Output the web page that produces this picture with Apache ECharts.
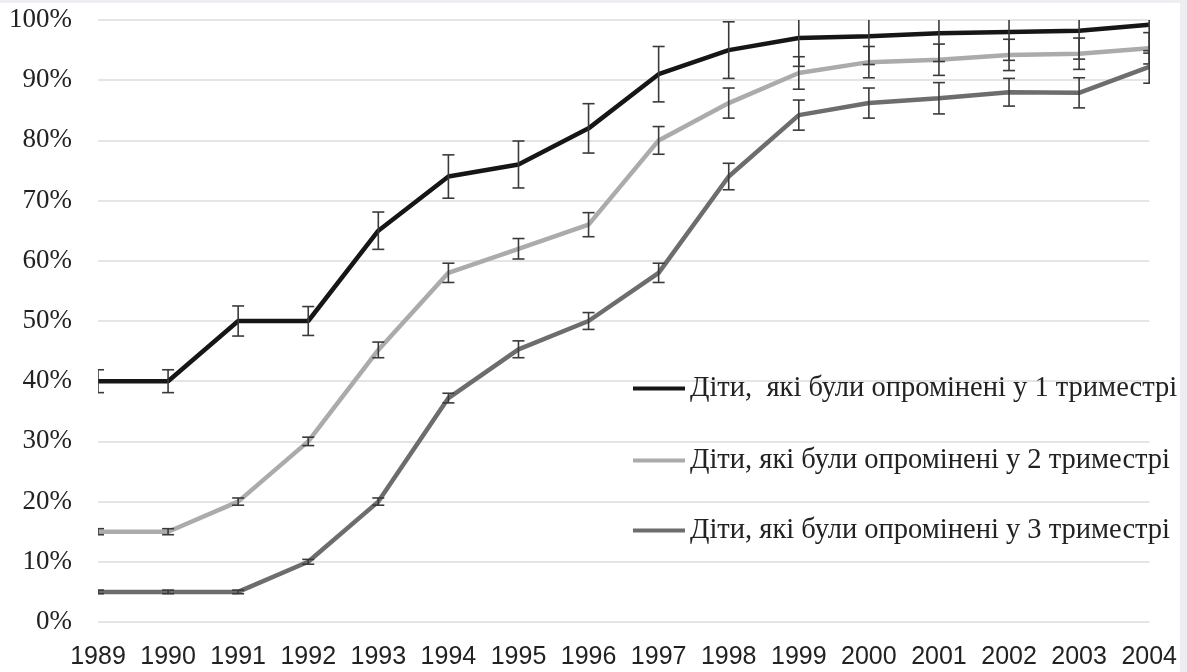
<!DOCTYPE html>
<html>
<head>
<meta charset="utf-8">
<script src="https://cdn.jsdelivr.net/npm/echarts@6/dist/echarts.min.js"></script>
<style>
  html, body { margin: 0; padding: 0; background: #eceef1; }
  #chart { position: absolute; left: 0; top: 3px; width: 1180px; height: 669px; background: #ffffff; }
</style>
</head>
<body>
<div id="chart"></div>
<script>
// Years of observation
const years = ['1989','1990','1991','1992','1993','1994','1995','1996','1997','1998','1999','2000','2001','2002','2003','2004'];

// Series names (legend)
const name1 = 'Діти,  які були опромінені у 1 триместрі';
const name2 = 'Діти, які були опромінені у 2 триместрі';
const name3 = 'Діти, які були опромінені у 3 триместрі';

// Share of children, %
const trimester1 = [40, 40, 50, 50, 65, 74, 76, 82, 91, 95, 97, 97.3, 97.8, 98, 98.2, 99.2];
const trimester2 = [15, 15, 20, 30, 45.2, 58, 62, 66, 80, 86.2, 91.2, 93, 93.4, 94.2, 94.4, 95.3];
const trimester3 = [5, 5, 5, 10, 20, 37.2, 45.3, 50, 58, 74, 84.2, 86.2, 87, 88, 87.9, 92.2];

// Error margins, ± %
const err1 = [1.9, 1.9, 2.5, 2.4, 3.1, 3.6, 3.9, 4.1, 4.6, 4.7, 4.7, 4.7, 4.7, 4.7, 4.7, 4.7];
const err2 = [0.5, 0.5, 0.6, 0.7, 1.3, 1.6, 1.7, 2.0, 2.3, 2.5, 2.7, 2.6, 2.6, 2.6, 2.6, 2.6];
const err3 = [0.3, 0.3, 0.3, 0.4, 0.6, 0.8, 1.4, 1.4, 1.6, 2.2, 2.5, 2.5, 2.6, 2.3, 2.5, 2.7];

const colors = ['#161616', '#ababab', '#6d6d6d'];

function errorData(values, errs) {
  return values.map((v, i) => [i, v - errs[i], v + errs[i]]);
}

function renderErrorBar(params, api) {
  const x = api.value(0);
  const top = api.coord([x, api.value(2)]);
  const bottom = api.coord([x, api.value(1)]);
  const half = 6;
  const style = { stroke: '#3a3a3a', lineWidth: 1.6, fill: null };
  return {
    type: 'group',
    children: [
      { type: 'line', shape: { x1: top[0], y1: top[1], x2: bottom[0], y2: bottom[1] }, style: style },
      { type: 'line', shape: { x1: top[0] - half, y1: top[1], x2: top[0] + half, y2: top[1] }, style: style },
      { type: 'line', shape: { x1: bottom[0] - half, y1: bottom[1], x2: bottom[0] + half, y2: bottom[1] }, style: style }
    ]
  };
}

function lineSeries(name, values, color, z) {
  return {
    name: name,
    type: 'line',
    data: values,
    symbol: 'none',
    z: z,
    lineStyle: { color: color, width: 4.5 },
    itemStyle: { color: color },
    animation: false
  };
}

function errorSeries(values, errs) {
  return {
    type: 'custom',
    data: errorData(values, errs),
    encode: { x: 0, y: [1, 2] },
    renderItem: renderErrorBar,
    clip: true,
    z: 10,
    silent: true,
    animation: false
  };
}

function legendAt(name, top) {
  return {
    data: [name],
    left: 628,
    top: top,
    icon: 'rect',
    itemWidth: 52,
    itemHeight: 4,
    itemGap: 0,
    selectedMode: false,
    textStyle: { fontFamily: 'Liberation Serif', fontSize: 28.5, color: '#222222' }
  };
}

const chart = echarts.init(document.getElementById('chart'), null, { renderer: 'canvas' });

chart.setOption({
  backgroundColor: '#ffffff',
  animation: false,
  color: colors,
  grid: { left: 98, right: 28, top: 17, bottom: 50, containLabel: false },
  legend: [
    legendAt(name1, 366),
    legendAt(name2, 438),
    legendAt(name3, 508)
  ],
  xAxis: {
    type: 'category',
    data: years,
    boundaryGap: false,
    axisLine: { show: false },
    axisTick: { show: false },
    axisLabel: { fontFamily: 'Liberation Sans', fontSize: 25, color: '#222222', margin: 23, interval: 0 },
    splitLine: { show: false }
  },
  yAxis: {
    type: 'value',
    min: 0,
    max: 100,
    interval: 10,
    axisLine: { show: false },
    axisTick: { show: false },
    axisLabel: { fontFamily: 'Liberation Serif', fontSize: 27, color: '#222222', margin: 26, formatter: '{value}%' },
    splitLine: { show: true, lineStyle: { color: '#dcdcdc', width: 1.5 } }
  },
  series: [
    lineSeries(name3, trimester3, colors[2], 2),
    lineSeries(name2, trimester2, colors[1], 3),
    lineSeries(name1, trimester1, colors[0], 4),
    errorSeries(trimester1, err1),
    errorSeries(trimester2, err2),
    errorSeries(trimester3, err3)
  ]
});
</script>
</body>
</html>
